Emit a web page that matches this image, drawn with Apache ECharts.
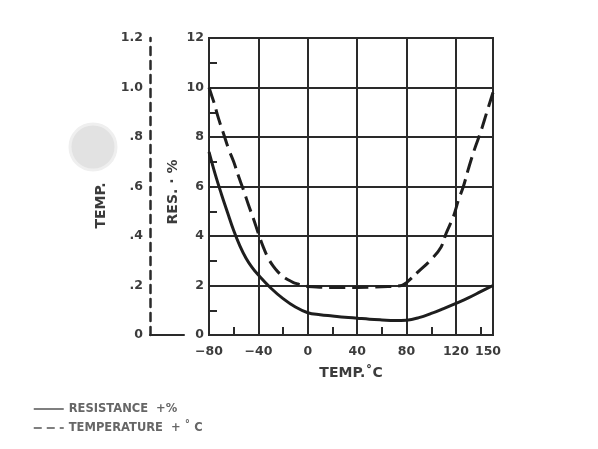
<!DOCTYPE html>
<html>
<head>
<meta charset="utf-8">
<script src="https://cdn.jsdelivr.net/npm/echarts@6/dist/echarts.min.js"></script>
<style>
html,body{margin:0;padding:0;background:#fff;}
#main{width:598px;height:449px;}
</style>
</head>
<body>
<div id="main"></div>
<script>
// Resistance change (%) vs temperature (°C)
var resTemps  = [-80, -75, -70, -65, -60, -55, -50, -45, -40, -30, -20, -10, 0, 10, 20, 30, 40, 50, 60, 70, 80, 90, 100, 110, 120, 130, 140, 150];
var resValues = [7.4, 6.5, 5.7, 4.95, 4.22, 3.6, 3.1, 2.72, 2.42, 1.9, 1.47, 1.13, 0.9, 0.82, 0.77, 0.72, 0.68, 0.64, 0.61, 0.585, 0.6, 0.7, 0.87, 1.07, 1.28, 1.5, 1.75, 2.0];
// Temperature change (°C) vs temperature (°C), read on the left TEMP. scale
var tmpTemps  = [-80, -78, -76, -72, -68, -64, -60, -56, -52, -48, -44, -40, -36, -32, -28, -24, -20, -16, -12, -8, -4, 0, 20, 40, 60, 76, 80, 90, 100, 108, 112, 118, 122, 126, 130, 135, 140, 145, 150];
var tmpValues = [1.0, 0.97, 0.94, 0.87, 0.81, 0.75, 0.70, 0.64, 0.585, 0.525, 0.47, 0.41, 0.355, 0.31, 0.278, 0.254, 0.236, 0.223, 0.213, 0.206, 0.2, 0.196, 0.192, 0.192, 0.195, 0.20, 0.212, 0.258, 0.305, 0.356, 0.41, 0.48, 0.545, 0.60, 0.67, 0.75, 0.82, 0.90, 0.98];
var resName = 'RESISTANCE  +%';
var tmpName = 'TEMPERATURE  + \u02DA C';

function pairs(xs, ys){ return xs.map(function(x,i){ return [x, ys[i]]; }); }

var ink = '#2a2a2a';
var txt = '#3c3c3c';
var font = 'DejaVu Sans';

var chart = echarts.init(document.getElementById('main'));
chart.setOption({
  animation: false,
  backgroundColor: '#fff',
  graphic: [{
    type: 'circle', z: -1,
    shape: {cx: 93, cy: 147, r: 23},
    style: {fill: '#e2e2e2', stroke: '#efefef', lineWidth: 3}
  }],
  legend: {
    orient: 'vertical', left: 28, top: 398,
    itemWidth: 30, itemHeight: 10, itemGap: 7,
    textStyle: {color: '#666', fontSize: 11.5, fontFamily: font, fontWeight: 'bold'},
    data: [
      {name: resName, itemStyle: {opacity: 0}, lineStyle: {width: 1.5, type: 'solid', color: '#555'}},
      {name: tmpName, itemStyle: {opacity: 0}, lineStyle: {width: 1.5, type: [8, 5], color: '#555'}}
    ]
  },
  grid: [
    {left: 209, right: 105, top: 38, bottom: 114, show: true, borderColor: ink, borderWidth: 2},
    {left: 150, width: 34, top: 38, bottom: 114}
  ],
  xAxis: [
    {
      type: 'value', gridIndex: 0, position: 'bottom', min: -80, max: 150, interval: 40,
      name: 'TEMP.\u02DAC', nameLocation: 'middle', nameGap: 31,
      nameTextStyle: {color: txt, fontSize: 14, fontFamily: font, fontWeight: 'bold'},
      axisLine: {onZero: false, lineStyle: {color: ink, width: 2}},
      axisTick: {show: false},
      axisLabel: {color: txt, fontSize: 12.5, fontFamily: font, fontWeight: 'bold', margin: 10,
        rich: {e: {color: txt, fontSize: 12.5, fontFamily: font, fontWeight: 'bold', padding: [0, 10, 0, 0]}},
        formatter: function(v){
          if (v === 150) return '{e|150}';
          return v < 0 ? '\u2212' + Math.abs(v) : String(v);
        }},
      splitLine: {show: true, lineStyle: {color: ink, width: 2}}
    },
    {
      type: 'value', gridIndex: 0, position: 'bottom', min: -80, max: 150, interval: 20,
      axisLine: {show: false, onZero: false},
      axisTick: {show: true, inside: true, length: 8, lineStyle: {color: ink, width: 2}},
      axisLabel: {show: false},
      splitLine: {show: false}
    },
    {
      type: 'value', gridIndex: 1, position: 'bottom', min: 0, max: 1,
      axisLine: {onZero: false, lineStyle: {color: ink, width: 2}},
      axisTick: {show: false}, axisLabel: {show: false}, splitLine: {show: false}
    }
  ],
  yAxis: [
    {
      type: 'value', gridIndex: 0, position: 'left', min: 0, max: 12, interval: 2,
      name: 'RES. \u00B7 %', nameLocation: 'middle', nameGap: 29,
      nameTextStyle: {color: txt, fontSize: 14, fontFamily: font, fontWeight: 'bold', padding: [0, 11, 0, 0]},
      axisLine: {onZero: false, lineStyle: {color: ink, width: 2}},
      axisTick: {show: false, inside: true},
      minorTick: {show: true, splitNumber: 2, length: 8, lineStyle: {color: ink, width: 2}},
      axisLabel: {color: txt, fontSize: 12.5, fontFamily: font, fontWeight: 'bold', margin: 5},
      splitLine: {show: true, lineStyle: {color: ink, width: 2}}
    },
    {
      type: 'value', gridIndex: 0, position: 'left', offset: 59, min: 0, max: 1.2, interval: 0.2,
      name: 'TEMP.', nameLocation: 'middle', nameGap: 42,
      nameTextStyle: {color: txt, fontSize: 14, fontFamily: font, fontWeight: 'bold', padding: [0, 38, 0, 0]},
      axisLine: {onZero: false, lineStyle: {color: ink, width: 2.5, type: [8, 6]}},
      axisTick: {show: false},
      axisLabel: {color: txt, fontSize: 12.5, fontFamily: font, fontWeight: 'bold', margin: 7,
        formatter: function(v){
          if (Math.abs(v) < 1e-9) return '0';
          var s = v.toFixed(1);
          return v < 1 ? s.replace(/^0/, '') : s;
        }},
      splitLine: {show: false}
    },
    {type: 'value', gridIndex: 1, show: false, min: 0, max: 1, axisLine: {onZero: false}}
  ],
  series: [
    {
      name: resName, type: 'line', xAxisIndex: 0, yAxisIndex: 0,
      data: pairs(resTemps, resValues), smooth: 0.4, symbol: 'none',
      itemStyle: {color: '#1e1e1e'},
      lineStyle: {color: '#1e1e1e', width: 3}
    },
    {
      name: tmpName, type: 'line', xAxisIndex: 0, yAxisIndex: 1,
      data: pairs(tmpTemps, tmpValues), smooth: 0.4, symbol: 'none',
      itemStyle: {color: '#1e1e1e'},
      lineStyle: {color: '#1e1e1e', width: 3, type: [16, 7]}
    }
  ]
});
</script>
</body>
</html>
